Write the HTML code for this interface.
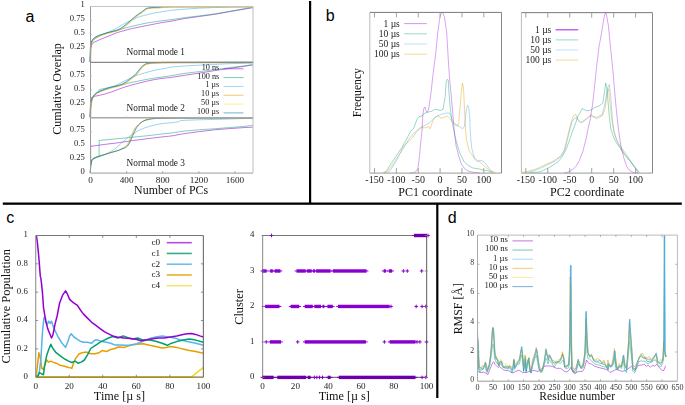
<!DOCTYPE html>
<html><head><meta charset="utf-8"><style>
html,body{margin:0;padding:0;background:#fff;}
body{width:685px;height:405px;overflow:hidden;}
svg{display:block;}
.gt{filter:grayscale(1);}
text{white-space:pre;}
</style></head><body>
<svg width="685" height="405" viewBox="0 0 685 405">
<rect width="685" height="405" fill="#fff"/>
<rect x="309" y="1" width="2.2" height="202.5" fill="#000"/>
<rect x="2.8" y="202.5" width="679" height="2.3" fill="#000"/>
<rect x="436.2" y="203" width="2.2" height="195" fill="#000"/>
<text x="25.5" y="22" font-family='"Liberation Sans", sans-serif' font-size="16" text-anchor="start" fill="#000" >a</text>
<text x="325.7" y="20.7" font-family='"Liberation Sans", sans-serif' font-size="16" text-anchor="start" fill="#000" >b</text>
<text x="6.3" y="222.9" font-family='"Liberation Sans", sans-serif' font-size="16" text-anchor="start" fill="#000" >c</text>
<text x="447.8" y="222.9" font-family='"Liberation Sans", sans-serif' font-size="16" text-anchor="start" fill="#000" >d</text>
<polyline points="90.22,62.07 90.67,48.44 91.7,44.74 93.93,42.22 98.37,40.3 102.81,38.37 110.22,35.41 117.63,32.44 125.04,30.37 132.44,28.44 139.85,26.96 147.26,25.48 154.67,24 162.07,22.52 172,21.04 184.81,18.52 199.63,16.44 214.44,14.37 229.26,11.7 244.07,9.19 252.96,7.7" fill="none" stroke="#9400d3" stroke-width="0.9" stroke-opacity="0.6" stroke-linejoin="round" />
<polyline points="90.22,62.07 90.52,48.44 91.26,43.26 92.44,40.3 94.67,37.78 98.37,35.85 102.81,34.37 107.26,32.89 111.7,31.7 116.15,30.67 119.85,29.48 125.04,28 132.44,26.22 139.85,24.44 147.26,22.96 154.67,21.78 162.07,20.74 172,19.56 184.81,17.63 199.63,15.85 214.44,13.93 229.26,11.41 244.07,8.74 252.96,6.96" fill="none" stroke="#009e73" stroke-width="0.9" stroke-opacity="0.55" stroke-linejoin="round" />
<polyline points="90.22,62.07 90.52,48.44 91.26,43.26 92.44,40.3 102.81,34.37 110.22,31.41 117.63,27.7 125.04,23.26 132.44,19.56 139.85,16.59 147.26,14.67 154.67,12.89 162.07,11.7 172,10.22 184.81,9.19 199.63,8.15 214.44,7.56 229.26,7.11 252.96,6.67" fill="none" stroke="#56b4e9" stroke-width="0.9" stroke-opacity="0.65" stroke-linejoin="round" />
<polyline points="90.42,62.22 90.72,48.59 91.46,43.41 92.64,40.45 94.87,37.93 98.57,36 103.01,34.52 107.46,33.04 110.2,32.45 116.9,30.65 120.7,29.05 123.5,27.05 128.7,22.95 132.4,19.55 134.6,17.55 138.3,14.75 142.8,11.65 145.8,9.25 148,8.35 152.2,7.85 160.2,7.55 162.27,7.11 172.2,6.96 253.16,6.82" fill="none" stroke="#f0e442" stroke-width="0.9" stroke-opacity="0.35" stroke-linejoin="round" />
<polyline points="90.72,62.47 91.02,48.84 91.76,43.66 92.94,40.7 95.17,38.18 98.87,36.25 103.31,34.77 107.76,33.29 110.5,32.7 117.2,30.9 121,29.3 123.8,27.3 129,23.2 132.7,19.8 134.9,17.8 138.6,15 143.1,11.9 146.1,9.5 148.3,8.6 152.5,8.1 160.5,7.8 162.57,7.36 172.5,7.21 253.46,7.07" fill="none" stroke="#e69f00" stroke-width="0.9" stroke-opacity="0.7" stroke-linejoin="round" />
<polyline points="90.02,61.87 90.32,48.24 91.06,43.06 92.24,40.1 94.47,37.58 98.17,35.65 102.61,34.17 107.06,32.69 109.8,32.1 116.5,30.3 120.3,28.7 123.1,26.7 128.3,22.6 132,19.2 134.2,17.2 137.9,14.4 142.4,11.3 145.4,8.9 147.6,8 151.8,7.5 159.8,7.2 161.87,6.76 171.8,6.61 252.76,6.47" fill="none" stroke="#0072b2" stroke-width="0.9" stroke-opacity="0.75" stroke-linejoin="round" />
<polyline points="90.22,117.48 90.52,100 90.96,98.22 92.44,97.33 94.67,96.3 99.85,95.26 105.78,93.78 111.7,91.85 117.63,89.63 123.56,87.41 129.48,85.63 135.41,84 141.33,82.52 147.26,81.04 153.19,79.85 159.11,78.81 165.04,78.07 172,77.33 184.81,75.26 199.63,73.04 214.44,70.67 229.26,68.44 244.07,66.37 252.96,64.89" fill="none" stroke="#9400d3" stroke-width="0.9" stroke-opacity="0.6" stroke-linejoin="round" />
<polyline points="90.22,117.48 90.67,107.41 91.7,100 93.93,95.56 96.89,92.89 98.67,91.85 99.11,89.63 102.81,88.89 108.74,87.41 114.67,86.37 120.59,85.19 126.52,83.7 132.44,82.22 139.85,80.74 147.26,79.26 154.67,78.07 162.07,77.04 172,75.56 184.81,73.33 199.63,71.56 214.44,69.63 229.26,67.7 244.07,65.93 252.96,64.44" fill="none" stroke="#009e73" stroke-width="0.9" stroke-opacity="0.55" stroke-linejoin="round" />
<polyline points="90.22,117.48 90.52,108.89 91.26,101.48 92.44,97.78 94.67,94.81 96.89,92.89 102.81,90.37 108.74,88.15 114.67,85.93 120.59,82.96 126.52,80 132.44,77.04 138.37,74.81 144.3,73.04 150.22,71.41 156.15,69.93 162.07,68.89 172,66.96 184.81,65.93 199.63,65.19 214.44,64.44 229.26,63.7 244.07,63.26 252.96,62.96" fill="none" stroke="#56b4e9" stroke-width="0.9" stroke-opacity="0.65" stroke-linejoin="round" />
<polyline points="90.42,117.63 90.72,109.04 91.46,101.63 92.64,97.93 94.87,94.96 97.09,93.04 100.05,91.56 104.5,89.78 108.94,88.3 113.39,87.11 117.83,86.08 122.27,84.59 126.72,82.08 131.16,78.67 135.61,74.96 139.31,70.52 143.01,66.08 146.72,63.85 151.9,63.11 162.27,62.82 172.2,62.67 253.16,62.52" fill="none" stroke="#f0e442" stroke-width="0.9" stroke-opacity="0.35" stroke-linejoin="round" />
<polyline points="90.72,117.88 91.02,109.29 91.76,101.88 92.94,98.18 95.17,95.21 97.39,93.29 100.35,91.81 104.8,90.03 109.24,88.55 113.69,87.36 118.13,86.33 122.57,84.84 127.02,82.33 131.46,78.92 135.91,75.21 139.61,70.77 143.31,66.33 147.02,64.1 152.2,63.36 162.57,63.07 172.5,62.92 253.46,62.77" fill="none" stroke="#e69f00" stroke-width="0.9" stroke-opacity="0.7" stroke-linejoin="round" />
<polyline points="90.02,117.28 90.32,108.69 91.06,101.28 92.24,97.58 94.47,94.61 96.69,92.69 99.65,91.21 104.1,89.43 108.54,87.95 112.99,86.76 117.43,85.73 121.87,84.24 126.32,81.73 130.76,78.32 135.21,74.61 138.91,70.17 142.61,65.73 146.32,63.5 151.5,62.76 161.87,62.47 171.8,62.32 252.76,62.17" fill="none" stroke="#0072b2" stroke-width="0.9" stroke-opacity="0.75" stroke-linejoin="round" />
<polyline points="90.37,173.07 90.67,165.37 90.67,146.41 102.81,144.63 117.63,142.85 132.44,140.63 147.26,138.7 162.07,136.93 172,135.89 184.81,133.52 199.63,131.59 214.44,129.81 229.26,128.63 244.07,127.59 252.96,127.15" fill="none" stroke="#9400d3" stroke-width="0.9" stroke-opacity="0.6" stroke-linejoin="round" />
<polyline points="90.22,173.07 90.67,165.37 91.7,160.93 93.93,158.7 96.89,157.22 99.11,156.48 99.11,140.48 117.63,138.7 132.44,137.22 147.26,135.74 162.07,133.96 172,132.93 184.81,131 199.63,129.81 214.44,128.78 229.26,127.59 244.07,126.41 252.96,125.37" fill="none" stroke="#009e73" stroke-width="0.9" stroke-opacity="0.55" stroke-linejoin="round" />
<polyline points="90.22,173.07 90.67,165.37 91.7,160.93 93.93,158.7 96.89,157.52 102.81,155.74 108.74,152.78 114.67,149.07 120.59,143.89 126.52,138.7 132.44,134.26 138.37,130.56 144.3,128.04 150.22,126.11 156.15,124.63 162.07,123.59 172,122.7 178.89,121.67 180.37,120.63 184.81,120.33 199.63,119.74 214.44,119.44 229.26,119 252.96,118.26" fill="none" stroke="#56b4e9" stroke-width="0.9" stroke-opacity="0.65" stroke-linejoin="round" />
<polyline points="90.6,173.2 90.9,166.2 92,160.6 93.3,158.8 95.4,157.8 98.3,156.7 102.1,155.5 110.5,153 118.9,150.5 125.6,147.8 127.8,146.2 129.2,144.2 130.7,141.2 131.9,138.2 133.2,135.4 134.8,131.7 136.8,127.8 138.8,125.2 140.7,123.4 142.5,122 144.1,121 146.3,120 149.1,119.3 152.3,118.9 157.5,118.6 175.3,118.3 253.3,118.2" fill="none" stroke="#f0e442" stroke-width="0.9" stroke-opacity="0.35" stroke-linejoin="round" />
<polyline points="90.3,173 90.6,166 91.7,160.4 93,158.6 95.1,157.6 98,156.5 101.8,155.3 110.2,152.8 118.6,150.3 124.1,147.6 126.3,146 127.7,144 129.2,141 130.4,138 131.7,135.2 133.3,131.5 135.3,127.6 137.3,125.6 139.2,123.8 141,122.4 142.6,121.4 146,120.4 148.8,119.7 152,118.7 157.2,118.4 175,118.1 253,118" fill="none" stroke="#e69f00" stroke-width="0.9" stroke-opacity="0.7" stroke-linejoin="round" />
<polyline points="90.3,173 90.6,166 91.7,160.4 93,158.6 95.1,157.6 98,156.5 101.8,155.3 110.2,152.8 118.6,150.3 125.3,147.6 127.5,146 128.9,144 130.4,141 131.6,138 132.9,135.2 134.5,131.5 136.5,127.6 138.5,125 140.4,123.2 142.2,121.8 143.8,120.8 146,119.8 148.8,119.1 152,118.7 157.2,118.4 175,118.1 253,118" fill="none" stroke="#0072b2" stroke-width="0.9" stroke-opacity="0.75" stroke-linejoin="round" />
<line x1="90.5" y1="6.5" x2="253" y2="6.5" stroke="#c4c4c4" stroke-width="1.2" />
<line x1="90.5" y1="173.1" x2="253" y2="173.1" stroke="#9a9a9a" stroke-width="1" />
<line x1="90.5" y1="6.5" x2="90.5" y2="173.1" stroke="#9a9a9a" stroke-width="1" />
<line x1="253" y1="6.5" x2="253" y2="173.1" stroke="#c8c8c8" stroke-width="1.2" />
<line x1="90.5" y1="62.3" x2="253" y2="62.3" stroke="#888" stroke-width="1.2" />
<line x1="90.5" y1="117.8" x2="253" y2="117.8" stroke="#a8a8a8" stroke-width="1.5" />
<line x1="126.61" y1="173.1" x2="126.61" y2="171.1" stroke="#9a9a9a" stroke-width="0.8" />
<line x1="126.61" y1="62.3" x2="126.61" y2="60.8" stroke="#bbb" stroke-width="0.6" />
<line x1="126.61" y1="117.8" x2="126.61" y2="116.3" stroke="#bbb" stroke-width="0.6" />
<line x1="162.72" y1="173.1" x2="162.72" y2="171.1" stroke="#9a9a9a" stroke-width="0.8" />
<line x1="162.72" y1="62.3" x2="162.72" y2="60.8" stroke="#bbb" stroke-width="0.6" />
<line x1="162.72" y1="117.8" x2="162.72" y2="116.3" stroke="#bbb" stroke-width="0.6" />
<line x1="198.83" y1="173.1" x2="198.83" y2="171.1" stroke="#9a9a9a" stroke-width="0.8" />
<line x1="198.83" y1="62.3" x2="198.83" y2="60.8" stroke="#bbb" stroke-width="0.6" />
<line x1="198.83" y1="117.8" x2="198.83" y2="116.3" stroke="#bbb" stroke-width="0.6" />
<line x1="234.94" y1="173.1" x2="234.94" y2="171.1" stroke="#9a9a9a" stroke-width="0.8" />
<line x1="234.94" y1="62.3" x2="234.94" y2="60.8" stroke="#bbb" stroke-width="0.6" />
<line x1="234.94" y1="117.8" x2="234.94" y2="116.3" stroke="#bbb" stroke-width="0.6" />
<line x1="90.5" y1="48.35" x2="92" y2="48.35" stroke="#bbb" stroke-width="0.8" />
<line x1="90.5" y1="34.4" x2="92" y2="34.4" stroke="#bbb" stroke-width="0.8" />
<line x1="90.5" y1="20.45" x2="92" y2="20.45" stroke="#bbb" stroke-width="0.8" />
<line x1="90.5" y1="103.92" x2="92" y2="103.92" stroke="#bbb" stroke-width="0.8" />
<line x1="90.5" y1="90.05" x2="92" y2="90.05" stroke="#bbb" stroke-width="0.8" />
<line x1="90.5" y1="76.17" x2="92" y2="76.17" stroke="#bbb" stroke-width="0.8" />
<line x1="90.5" y1="159.28" x2="92" y2="159.28" stroke="#bbb" stroke-width="0.8" />
<line x1="90.5" y1="145.45" x2="92" y2="145.45" stroke="#bbb" stroke-width="0.8" />
<line x1="90.5" y1="131.62" x2="92" y2="131.62" stroke="#bbb" stroke-width="0.8" />
<line x1="223.5" y1="68.8" x2="243.5" y2="68.8" stroke="#9400d3" stroke-width="1" stroke-opacity="0.55"/>
<line x1="223.5" y1="77.62" x2="243.5" y2="77.62" stroke="#009e73" stroke-width="1" stroke-opacity="0.55"/>
<line x1="223.5" y1="86.44" x2="243.5" y2="86.44" stroke="#56b4e9" stroke-width="1" stroke-opacity="0.55"/>
<line x1="223.5" y1="95.26" x2="243.5" y2="95.26" stroke="#e69f00" stroke-width="1" stroke-opacity="0.55"/>
<line x1="223.5" y1="104.08" x2="243.5" y2="104.08" stroke="#f0e442" stroke-width="1" stroke-opacity="0.55"/>
<line x1="223.5" y1="112.9" x2="243.5" y2="112.9" stroke="#0072b2" stroke-width="1" stroke-opacity="0.55"/>
<polyline points="382.9,172.6 387.1,171.8 391.4,166.5 395.6,160.1 399.9,153.7 404.1,145.2 408.4,142.1 412.6,137.8 416.9,131.4 421.1,127.8 425.4,127.8 428.6,126.5 430,128.8 433.9,118.4 437.8,115.8 441.8,118.4 444.4,117.1 447,115.8 449.6,118.4 452.2,122.3 454.8,124.9 457.5,126.2 458.8,122.3 460.1,106.6 461.4,90.9 462.4,83.1 463.5,88.3 464.5,109.2 465.6,130.1 466.6,140.6 469.2,151.1 473.1,156.3 477.1,160.2 481,162.8 484.9,166.8 490.1,170.7 495.4,172.6" fill="none" stroke="#e69f00" stroke-width="0.8" stroke-opacity="0.55" stroke-linejoin="round" />
<polyline points="388.2,172.9 391.4,168.6 395.6,162.2 399.9,153.7 404.1,147.4 408.4,139.9 412.6,134.6 416.9,130.4 421.1,127.2 425.4,125.1 429.6,122.9 435.2,117.1 440.5,114.5 445.7,113.1 449.6,113.1 452.2,119.7 454.8,123.6 458.8,126.2 462.7,128.8 464.5,126.2 466.1,111.8 467.4,105.3 468.7,106.6 469.7,117.1 470.5,135.4 471.8,148.5 474.5,158.9 477.1,161.5 481,160.2 484.9,162.8 488.8,168.1 492.8,172.6" fill="none" stroke="#56b4e9" stroke-width="0.8" stroke-opacity="0.6" stroke-linejoin="round" />
<polyline points="383.9,172.6 386.1,171.8 389.2,166.5 393.5,160.1 397.7,153.7 402,147.4 406.2,139.9 410.5,131.4 413.7,128.2 416.9,119.7 419,116.6 422.2,115.9 424.3,113.4 427.5,112.3 431.7,111.2 435.2,109.2 440.5,110.5 443.1,109.2 445.2,96.2 446.2,81.8 447.3,79.2 448.3,80.5 448.8,90.9 450.4,109.2 452.2,122.3 454.8,135.4 457.5,145.8 460.1,153.7 464,161.5 467.9,165.4 473.1,168.1 478.4,168.8 482.3,169.9 487.5,170.7 492.8,172.6" fill="none" stroke="#009e73" stroke-width="0.8" stroke-opacity="0.5" stroke-linejoin="round" />
<polyline points="410,173 412.6,172.9 415.8,171.8 417.9,168.6 419,160.1 420.1,149.5 421.1,138.9 422.2,128.2 422.8,115.5 423.7,108.7 425,107 425.8,110.2 427.1,112.3 428.5,110 429.6,102.7 431.1,92 433.3,72.2 435.6,54.4 437.8,32.2 440,16.7 441.2,13.5 442.2,12.4 443.2,13.5 444.4,16.7 446.7,32.2 448.3,60 449.6,79 450.9,92 452.2,106.6 453.5,122.3 454.8,135.4 456.1,145.8 458.8,156.3 461.4,164.1 465.3,169.4 469.2,171.5 474.5,172.5 480,173" fill="none" stroke="#9400d3" stroke-width="0.8" stroke-opacity="0.45" stroke-linejoin="round" />
<line x1="369.8" y1="12.4" x2="501.5" y2="12.4" stroke="#777" stroke-width="1" />
<line x1="369.8" y1="173.1" x2="501.5" y2="173.1" stroke="#999" stroke-width="1" />
<line x1="369.8" y1="12.4" x2="369.8" y2="173.1" stroke="#bbb" stroke-width="1" />
<line x1="501.5" y1="12.4" x2="501.5" y2="173.1" stroke="#888" stroke-width="1" />
<line x1="374.52" y1="173.1" x2="374.52" y2="168.1" stroke="#999" stroke-width="0.9" />
<line x1="374.52" y1="12.4" x2="374.52" y2="17.4" stroke="#999" stroke-width="0.9" />
<line x1="396.38" y1="173.1" x2="396.38" y2="168.1" stroke="#999" stroke-width="0.9" />
<line x1="396.38" y1="12.4" x2="396.38" y2="17.4" stroke="#999" stroke-width="0.9" />
<line x1="418.24" y1="173.1" x2="418.24" y2="168.1" stroke="#999" stroke-width="0.9" />
<line x1="418.24" y1="12.4" x2="418.24" y2="17.4" stroke="#999" stroke-width="0.9" />
<line x1="440.1" y1="173.1" x2="440.1" y2="168.1" stroke="#999" stroke-width="0.9" />
<line x1="440.1" y1="12.4" x2="440.1" y2="17.4" stroke="#999" stroke-width="0.9" />
<line x1="461.96" y1="173.1" x2="461.96" y2="168.1" stroke="#999" stroke-width="0.9" />
<line x1="461.96" y1="12.4" x2="461.96" y2="17.4" stroke="#999" stroke-width="0.9" />
<line x1="483.82" y1="173.1" x2="483.82" y2="168.1" stroke="#999" stroke-width="0.9" />
<line x1="483.82" y1="12.4" x2="483.82" y2="17.4" stroke="#999" stroke-width="0.9" />
<line x1="404.1" y1="23.6" x2="426.8" y2="23.6" stroke="#9400d3" stroke-width="0.9" stroke-opacity="0.45"/>
<line x1="404.1" y1="33.8" x2="426.8" y2="33.8" stroke="#009e73" stroke-width="0.9" stroke-opacity="0.45"/>
<line x1="404.1" y1="44" x2="426.8" y2="44" stroke="#56b4e9" stroke-width="0.9" stroke-opacity="0.45"/>
<line x1="404.1" y1="54.2" x2="426.8" y2="54.2" stroke="#e69f00" stroke-width="0.9" stroke-opacity="0.45"/>
<polyline points="521.2,172.6 527.1,171.4 534.2,169.7 541.4,166.6 546.1,164.2 550.8,162.6 555.6,159.5 560.3,156.4 563.9,151.2 566.3,141.7 568.6,132.2 571,122.7 573.4,115.6 575.8,114.4 578.1,120.3 580.5,122.7 584.1,120.3 587.6,118 590.7,114.5 596.5,118.8 602.2,115.9 605.1,108.8 607.4,91.6 608.5,88.7 610.2,105.9 612.3,123.1 615.1,134.6 618,143.2 622.3,151.8 626.6,157.5 630.9,161.8 635.2,167.6 639.5,172.6" fill="none" stroke="#e69f00" stroke-width="0.8" stroke-opacity="0.55" stroke-linejoin="round" />
<polyline points="527.1,172.6 534.2,170.6 541.4,167.8 548.5,164.2 555.6,160.7 561.5,155.9 565.1,148.8 567.5,139.3 569.8,129.8 572.2,121.5 574.6,118 577,118 579.3,121.5 581.7,122.7 585.3,120.3 588.8,116.8 590.7,115.9 596.5,117.4 602.2,114.5 605.1,103 607.4,88.7 609.4,84.4 610.8,97.3 612.3,117.4 613.7,131.7 616.6,140.3 619.4,144.6 622.3,148.9 626.6,154.7 630.9,161.8 635.2,167.6 639.5,172.6" fill="none" stroke="#56b4e9" stroke-width="0.8" stroke-opacity="0.6" stroke-linejoin="round" />
<polyline points="529.5,172.6 539,172.1 543.7,170.2 550.8,166.6 558,161.9 562.7,155.9 566.3,148.8 569.8,139.3 572.2,132.2 575.8,122.7 578.1,115.6 580.5,112 582.2,108.5 584.1,109.7 586.4,110.8 590.7,110.2 595,107.3 599.3,105.9 602.8,103 604.5,91.6 605.7,83 606.8,87.3 607.9,100.2 609.4,117.4 610.8,128.8 613.7,137.5 616.6,143.2 620.9,148.9 625.2,154.7 629.5,160.4 633.8,166.1 638.1,172.6" fill="none" stroke="#009e73" stroke-width="0.8" stroke-opacity="0.5" stroke-linejoin="round" />
<polyline points="564,173 566.3,172.6 569.8,171.4 573.4,169 576.5,165.5 579.3,160.7 582.9,151.2 586,139.3 588.3,127.5 590,120.5 592.5,105 594.4,88 596.9,63.9 599.4,43.4 599.9,42.2 602,30 604,17.9 605,14 605.8,12.8 606.6,15.3 608.4,25.5 610.9,51.1 613.5,76.6 614.5,90 615.7,103 617.1,117.4 618.8,131.7 620.9,146.1 623.7,157.5 626.6,166.1 629.5,170.4 633.8,172.7 638,173" fill="none" stroke="#9400d3" stroke-width="0.8" stroke-opacity="0.45" stroke-linejoin="round" />
<line x1="521.4" y1="12.65" x2="652.5" y2="12.65" stroke="#777" stroke-width="1" />
<line x1="521.4" y1="173.1" x2="652.5" y2="173.1" stroke="#999" stroke-width="1" />
<line x1="521.4" y1="12.65" x2="521.4" y2="173.1" stroke="#bbb" stroke-width="1" />
<line x1="652.5" y1="12.65" x2="652.5" y2="173.1" stroke="#888" stroke-width="1" />
<line x1="525.82" y1="173.1" x2="525.82" y2="168.1" stroke="#999" stroke-width="0.9" />
<line x1="525.82" y1="12.65" x2="525.82" y2="17.65" stroke="#999" stroke-width="0.9" />
<line x1="547.78" y1="173.1" x2="547.78" y2="168.1" stroke="#999" stroke-width="0.9" />
<line x1="547.78" y1="12.65" x2="547.78" y2="17.65" stroke="#999" stroke-width="0.9" />
<line x1="569.74" y1="173.1" x2="569.74" y2="168.1" stroke="#999" stroke-width="0.9" />
<line x1="569.74" y1="12.65" x2="569.74" y2="17.65" stroke="#999" stroke-width="0.9" />
<line x1="591.7" y1="173.1" x2="591.7" y2="168.1" stroke="#999" stroke-width="0.9" />
<line x1="591.7" y1="12.65" x2="591.7" y2="17.65" stroke="#999" stroke-width="0.9" />
<line x1="613.66" y1="173.1" x2="613.66" y2="168.1" stroke="#999" stroke-width="0.9" />
<line x1="613.66" y1="12.65" x2="613.66" y2="17.65" stroke="#999" stroke-width="0.9" />
<line x1="635.62" y1="173.1" x2="635.62" y2="168.1" stroke="#999" stroke-width="0.9" />
<line x1="635.62" y1="12.65" x2="635.62" y2="17.65" stroke="#999" stroke-width="0.9" />
<line x1="555.6" y1="29.8" x2="578.2" y2="29.8" stroke="#9400d3" stroke-width="1.1" stroke-opacity="0.8"/>
<line x1="555.6" y1="39.9" x2="578.2" y2="39.9" stroke="#009e73" stroke-width="0.9" stroke-opacity="0.45"/>
<line x1="555.6" y1="50" x2="578.2" y2="50" stroke="#56b4e9" stroke-width="0.9" stroke-opacity="0.45"/>
<line x1="555.6" y1="60.1" x2="578.2" y2="60.1" stroke="#e69f00" stroke-width="0.9" stroke-opacity="0.45"/>
<polyline points="35.7,377 191.4,377 203.4,367.4" fill="none" stroke="#f0d000" stroke-width="1.5" stroke-opacity="0.9" stroke-linejoin="round" />
<polyline points="36.1,376.8 37.6,364.2 38.9,352.7 40.3,357.9 41.8,368.4 43.5,369.5 45.2,364.2 46.6,360 48.7,362.1 50.8,361.1 52.9,362.1 56.1,363.2 60.3,365.3 64.5,366.3 68.7,367.4 71.8,368.4 73.9,362.1 76,357.9 79.2,353.7 82.3,352.7 86.5,352.1 90.7,353.7 94.9,353.7 99.1,352.7 102.2,350.6 106.4,351.6 110.6,349.5 114.8,348.5 118,347 124.3,347.4 130.6,345.3 136.9,344.3 143.2,343.7 149.5,345.3 155.8,346.4 162.1,347.9 166.2,347.4 170.4,346.4 176.7,347.4 183,349.1 189.3,350.6 195.6,351.6 203.4,353.3" fill="none" stroke="#e69f00" stroke-width="1.5" stroke-opacity="1" stroke-linejoin="round" />
<polyline points="37.2,376.8 39.3,372.6 41,357.9 42.4,332.8 43.9,318.1 45.2,317 46,322.3 47.3,324.4 48.7,321.2 50.2,323.3 51.5,321.2 52.9,325.4 55,330.7 58.2,337 61.3,342.2 65.5,347.4 67.6,342.2 69.7,335.9 71.2,333.8 73.9,337 77.1,339.1 80.2,341.2 83.3,342.2 87.5,342.2 91.7,343.2 94.9,340.1 98,340.1 102.2,341.6 106.4,342.2 110.6,343.2 114.8,344.9 119,344.9 124.3,345.3 130.6,344.9 136.9,343.7 143.2,341.2 149.5,338.6 155.8,337 162.1,335.9 168.3,337 174.6,338 180.9,340.1 187.2,341.6 193.5,342.8 199.8,344.3 203.4,345.3" fill="none" stroke="#56b4e9" stroke-width="1.5" stroke-opacity="1" stroke-linejoin="round" />
<polyline points="36.1,376.8 38.2,375.8 39.3,372.6 41.4,373.7 43.5,374.7 44.5,366.3 46.6,355.8 48.7,349.5 50.8,344.3 52.9,348.5 56.1,352.7 60.3,355.8 64.5,359 68.7,361.1 71.8,362.5 75,361.1 78.1,363.2 81.2,362.1 84.4,360 87.5,354.8 90.7,348.5 93.8,346.4 97,344.3 100.1,342.2 104.3,340.1 108.5,338 112.7,336.5 118,338 123.2,335.9 128.5,338 132.7,339.1 137.9,338 143.2,340.1 149.5,340.1 155.8,341.2 162.1,343.2 167.3,345.3 171.5,343.2 176.7,341.6 183,340.1 189.3,339.1 195.6,340.1 203.4,342.2" fill="none" stroke="#00a070" stroke-width="1.5" stroke-opacity="1" stroke-linejoin="round" />
<polyline points="36.4,235.6 37.3,241.9 38.5,253.7 39.5,265.6 40.3,276.4 40.9,278.4 41.5,283.3 42.5,293.2 43.5,307.6 45.6,320.2 47.7,328.6 49.8,333.8 51.5,338 52.9,334.9 55,324.4 57.1,316 59.6,303 62.6,295.2 65.6,290.8 67.5,294.2 69.5,299.1 71.5,301.1 74.4,303.4 77.4,305.4 80.4,310 83.3,313.9 87.5,318.1 91.7,322.3 95.9,325.4 100.1,328.6 104.3,331.7 108.5,333.8 112.7,335.9 116.9,337 124.3,338 130.6,338.6 136.9,339.5 141.1,340.7 145.3,340.1 151.6,339.1 157.9,338 164.2,338 170.4,337 176.7,335.9 183,334.4 187.2,333.8 191.4,333.4 195.6,334.4 199.8,335.9 203.4,337" fill="none" stroke="#9400d3" stroke-width="1.5" stroke-opacity="1" stroke-linejoin="round" />
<line x1="35.7" y1="235.5" x2="203.4" y2="235.5" stroke="#777" stroke-width="1.2" />
<line x1="35.7" y1="377.2" x2="203.4" y2="377.2" stroke="#857528" stroke-width="1.3" />
<line x1="35.7" y1="235.5" x2="35.7" y2="377.2" stroke="#999" stroke-width="1.2" />
<line x1="203.4" y1="235.5" x2="203.4" y2="377.2" stroke="#777" stroke-width="1.2" />
<line x1="69.24" y1="377.2" x2="69.24" y2="374.7" stroke="#777" stroke-width="0.8" />
<line x1="69.24" y1="235.5" x2="69.24" y2="238" stroke="#777" stroke-width="0.8" />
<line x1="102.78" y1="377.2" x2="102.78" y2="374.7" stroke="#777" stroke-width="0.8" />
<line x1="102.78" y1="235.5" x2="102.78" y2="238" stroke="#777" stroke-width="0.8" />
<line x1="136.32" y1="377.2" x2="136.32" y2="374.7" stroke="#777" stroke-width="0.8" />
<line x1="136.32" y1="235.5" x2="136.32" y2="238" stroke="#777" stroke-width="0.8" />
<line x1="169.86" y1="377.2" x2="169.86" y2="374.7" stroke="#777" stroke-width="0.8" />
<line x1="169.86" y1="235.5" x2="169.86" y2="238" stroke="#777" stroke-width="0.8" />
<line x1="35.7" y1="348.86" x2="38.2" y2="348.86" stroke="#777" stroke-width="0.8" />
<line x1="203.4" y1="348.86" x2="200.9" y2="348.86" stroke="#777" stroke-width="0.8" />
<line x1="35.7" y1="320.52" x2="38.2" y2="320.52" stroke="#777" stroke-width="0.8" />
<line x1="203.4" y1="320.52" x2="200.9" y2="320.52" stroke="#777" stroke-width="0.8" />
<line x1="35.7" y1="292.18" x2="38.2" y2="292.18" stroke="#777" stroke-width="0.8" />
<line x1="203.4" y1="292.18" x2="200.9" y2="292.18" stroke="#777" stroke-width="0.8" />
<line x1="35.7" y1="263.84" x2="38.2" y2="263.84" stroke="#777" stroke-width="0.8" />
<line x1="203.4" y1="263.84" x2="200.9" y2="263.84" stroke="#777" stroke-width="0.8" />
<line x1="166.7" y1="242.7" x2="191.8" y2="242.7" stroke="#a030e0" stroke-width="1.6" stroke-opacity="0.85"/>
<line x1="166.7" y1="253.45" x2="191.8" y2="253.45" stroke="#10a070" stroke-width="1.6" stroke-opacity="0.85"/>
<line x1="166.7" y1="264.2" x2="191.8" y2="264.2" stroke="#56b4e9" stroke-width="1.6" stroke-opacity="0.85"/>
<line x1="166.7" y1="274.95" x2="191.8" y2="274.95" stroke="#e69f00" stroke-width="1.6" stroke-opacity="0.85"/>
<line x1="166.7" y1="285.7" x2="191.8" y2="285.7" stroke="#f0e060" stroke-width="1.6" stroke-opacity="0.85"/>
<line x1="262.6" y1="235.5" x2="426.6" y2="235.5" stroke="#777" stroke-width="1.2" />
<line x1="262.6" y1="377.4" x2="426.6" y2="377.4" stroke="#777" stroke-width="1.2" />
<line x1="262.6" y1="235.5" x2="262.6" y2="377.4" stroke="#999" stroke-width="1.2" />
<line x1="426.6" y1="235.5" x2="426.6" y2="377.4" stroke="#777" stroke-width="1.2" />
<rect x="262.4" y="269.28" width="4.2" height="3.4" fill="#8800d0"/>
<line x1="260.6" y1="270.98" x2="268.4" y2="270.98" stroke="#8800d0" stroke-width="1" />
<rect x="270.2" y="269.28" width="2.6" height="3.4" fill="#8800d0"/>
<line x1="268.4" y1="270.98" x2="274.6" y2="270.98" stroke="#8800d0" stroke-width="1" />
<rect x="274.6" y="269.28" width="5.9" height="3.4" fill="#8800d0"/>
<line x1="272.8" y1="270.98" x2="282.3" y2="270.98" stroke="#8800d0" stroke-width="1" />
<rect x="296.5" y="269.28" width="9.2" height="3.4" fill="#8800d0"/>
<line x1="294.7" y1="270.98" x2="307.5" y2="270.98" stroke="#8800d0" stroke-width="1" />
<rect x="306.9" y="269.28" width="4.8" height="3.4" fill="#8800d0"/>
<line x1="305.1" y1="270.98" x2="313.5" y2="270.98" stroke="#8800d0" stroke-width="1" />
<rect x="313.1" y="269.28" width="2" height="3.4" fill="#8800d0"/>
<line x1="311.3" y1="270.98" x2="316.9" y2="270.98" stroke="#8800d0" stroke-width="1" />
<rect x="316.1" y="269.28" width="14.5" height="3.4" fill="#8800d0"/>
<line x1="314.3" y1="270.98" x2="332.4" y2="270.98" stroke="#8800d0" stroke-width="1" />
<rect x="332.8" y="269.28" width="33.8" height="3.4" fill="#8800d0"/>
<line x1="331" y1="270.98" x2="368.4" y2="270.98" stroke="#8800d0" stroke-width="1" />
<rect x="383.7" y="269.28" width="2.2" height="3.4" fill="#8800d0"/>
<line x1="381.9" y1="270.98" x2="387.7" y2="270.98" stroke="#8800d0" stroke-width="1" />
<rect x="388.8" y="269.28" width="3.3" height="3.4" fill="#8800d0"/>
<line x1="387" y1="270.98" x2="393.9" y2="270.98" stroke="#8800d0" stroke-width="1" />
<rect x="265.1" y="304.75" width="14.4" height="3.4" fill="#8800d0"/>
<line x1="263.3" y1="306.45" x2="281.3" y2="306.45" stroke="#8800d0" stroke-width="1" />
<rect x="290.6" y="304.75" width="8.6" height="3.4" fill="#8800d0"/>
<line x1="288.8" y1="306.45" x2="301" y2="306.45" stroke="#8800d0" stroke-width="1" />
<rect x="304.7" y="304.75" width="8.1" height="3.4" fill="#8800d0"/>
<line x1="302.9" y1="306.45" x2="314.6" y2="306.45" stroke="#8800d0" stroke-width="1" />
<rect x="314.3" y="304.75" width="6.7" height="3.4" fill="#8800d0"/>
<line x1="312.5" y1="306.45" x2="322.8" y2="306.45" stroke="#8800d0" stroke-width="1" />
<rect x="322.5" y="304.75" width="1.9" height="3.4" fill="#8800d0"/>
<line x1="320.7" y1="306.45" x2="326.2" y2="306.45" stroke="#8800d0" stroke-width="1" />
<rect x="327.4" y="304.75" width="5.4" height="3.4" fill="#8800d0"/>
<line x1="325.6" y1="306.45" x2="334.6" y2="306.45" stroke="#8800d0" stroke-width="1" />
<rect x="338" y="304.75" width="51.6" height="3.4" fill="#8800d0"/>
<line x1="336.2" y1="306.45" x2="391.4" y2="306.45" stroke="#8800d0" stroke-width="1" />
<rect x="269.9" y="340.22" width="11.1" height="3.4" fill="#8800d0"/>
<line x1="268.1" y1="341.92" x2="282.8" y2="341.92" stroke="#8800d0" stroke-width="1" />
<rect x="304.7" y="340.22" width="61.2" height="3.4" fill="#8800d0"/>
<line x1="302.9" y1="341.92" x2="367.7" y2="341.92" stroke="#8800d0" stroke-width="1" />
<rect x="389.6" y="340.22" width="25.9" height="3.4" fill="#8800d0"/>
<line x1="387.8" y1="341.92" x2="417.3" y2="341.92" stroke="#8800d0" stroke-width="1" />
<rect x="262.4" y="375.7" width="11.2" height="3.4" fill="#6c00a8"/>
<line x1="260.6" y1="377.4" x2="275.4" y2="377.4" stroke="#6c00a8" stroke-width="1" />
<rect x="277.3" y="375.7" width="28.9" height="3.4" fill="#6c00a8"/>
<line x1="275.5" y1="377.4" x2="308" y2="377.4" stroke="#6c00a8" stroke-width="1" />
<rect x="307.7" y="375.7" width="2.9" height="3.4" fill="#6c00a8"/>
<line x1="305.9" y1="377.4" x2="312.4" y2="377.4" stroke="#6c00a8" stroke-width="1" />
<rect x="327.7" y="375.7" width="2.9" height="3.4" fill="#6c00a8"/>
<line x1="325.9" y1="377.4" x2="332.4" y2="377.4" stroke="#6c00a8" stroke-width="1" />
<rect x="338.8" y="375.7" width="76.7" height="3.4" fill="#6c00a8"/>
<line x1="337" y1="377.4" x2="417.3" y2="377.4" stroke="#6c00a8" stroke-width="1" />
<rect x="414" y="233.8" width="13" height="3.4" fill="#6c00a8"/>
<line x1="412.2" y1="235.5" x2="428.8" y2="235.5" stroke="#6c00a8" stroke-width="1" />
<line x1="401.6" y1="270.98" x2="405.2" y2="270.98" stroke="#8800d0" stroke-width="1" />
<line x1="403.4" y1="269.18" x2="403.4" y2="272.78" stroke="#8800d0" stroke-width="1" />
<line x1="405.5" y1="270.98" x2="409.1" y2="270.98" stroke="#8800d0" stroke-width="1" />
<line x1="407.3" y1="269.18" x2="407.3" y2="272.78" stroke="#8800d0" stroke-width="1" />
<line x1="419.9" y1="270.98" x2="423.5" y2="270.98" stroke="#8800d0" stroke-width="1" />
<line x1="421.7" y1="269.18" x2="421.7" y2="272.78" stroke="#8800d0" stroke-width="1" />
<line x1="389.2" y1="306.45" x2="392.8" y2="306.45" stroke="#8800d0" stroke-width="1" />
<line x1="391" y1="304.65" x2="391" y2="308.25" stroke="#8800d0" stroke-width="1" />
<line x1="414.4" y1="306.45" x2="418" y2="306.45" stroke="#8800d0" stroke-width="1" />
<line x1="416.2" y1="304.65" x2="416.2" y2="308.25" stroke="#8800d0" stroke-width="1" />
<line x1="420.3" y1="306.45" x2="423.9" y2="306.45" stroke="#8800d0" stroke-width="1" />
<line x1="422.1" y1="304.65" x2="422.1" y2="308.25" stroke="#8800d0" stroke-width="1" />
<line x1="424" y1="306.45" x2="427.6" y2="306.45" stroke="#8800d0" stroke-width="1" />
<line x1="425.8" y1="304.65" x2="425.8" y2="308.25" stroke="#8800d0" stroke-width="1" />
<line x1="264.4" y1="341.92" x2="268" y2="341.92" stroke="#8800d0" stroke-width="1" />
<line x1="266.2" y1="340.12" x2="266.2" y2="343.72" stroke="#8800d0" stroke-width="1" />
<line x1="295.9" y1="341.92" x2="299.5" y2="341.92" stroke="#8800d0" stroke-width="1" />
<line x1="297.7" y1="340.12" x2="297.7" y2="343.72" stroke="#8800d0" stroke-width="1" />
<line x1="382.6" y1="341.92" x2="386.2" y2="341.92" stroke="#8800d0" stroke-width="1" />
<line x1="384.4" y1="340.12" x2="384.4" y2="343.72" stroke="#8800d0" stroke-width="1" />
<line x1="415.2" y1="341.92" x2="418.8" y2="341.92" stroke="#8800d0" stroke-width="1" />
<line x1="417" y1="340.12" x2="417" y2="343.72" stroke="#8800d0" stroke-width="1" />
<line x1="418.1" y1="341.92" x2="421.7" y2="341.92" stroke="#8800d0" stroke-width="1" />
<line x1="419.9" y1="340.12" x2="419.9" y2="343.72" stroke="#8800d0" stroke-width="1" />
<line x1="424.8" y1="341.92" x2="428.4" y2="341.92" stroke="#8800d0" stroke-width="1" />
<line x1="426.6" y1="340.12" x2="426.6" y2="343.72" stroke="#8800d0" stroke-width="1" />
<line x1="312.5" y1="377.4" x2="316.1" y2="377.4" stroke="#8800d0" stroke-width="1" />
<line x1="314.3" y1="375.6" x2="314.3" y2="379.2" stroke="#8800d0" stroke-width="1" />
<line x1="315" y1="377.4" x2="318.6" y2="377.4" stroke="#8800d0" stroke-width="1" />
<line x1="316.8" y1="375.6" x2="316.8" y2="379.2" stroke="#8800d0" stroke-width="1" />
<line x1="317.7" y1="377.4" x2="321.3" y2="377.4" stroke="#8800d0" stroke-width="1" />
<line x1="319.5" y1="375.6" x2="319.5" y2="379.2" stroke="#8800d0" stroke-width="1" />
<line x1="320.7" y1="377.4" x2="324.3" y2="377.4" stroke="#8800d0" stroke-width="1" />
<line x1="322.5" y1="375.6" x2="322.5" y2="379.2" stroke="#8800d0" stroke-width="1" />
<line x1="420.3" y1="377.4" x2="423.9" y2="377.4" stroke="#8800d0" stroke-width="1" />
<line x1="422.1" y1="375.6" x2="422.1" y2="379.2" stroke="#8800d0" stroke-width="1" />
<line x1="424" y1="377.4" x2="427.6" y2="377.4" stroke="#8800d0" stroke-width="1" />
<line x1="425.8" y1="375.6" x2="425.8" y2="379.2" stroke="#8800d0" stroke-width="1" />
<line x1="269.7" y1="235.5" x2="273.3" y2="235.5" stroke="#8800d0" stroke-width="1" />
<line x1="271.5" y1="233.7" x2="271.5" y2="237.3" stroke="#8800d0" stroke-width="1" />
<line x1="426.2" y1="235.5" x2="429.8" y2="235.5" stroke="#8800d0" stroke-width="1" />
<line x1="428" y1="233.7" x2="428" y2="237.3" stroke="#8800d0" stroke-width="1" />
<line x1="261.6" y1="377.4" x2="264.6" y2="377.4" stroke="#777" stroke-width="0.8" />
<line x1="427.6" y1="377.4" x2="424.6" y2="377.4" stroke="#777" stroke-width="0.8" />
<line x1="261.6" y1="341.92" x2="264.6" y2="341.92" stroke="#777" stroke-width="0.8" />
<line x1="427.6" y1="341.92" x2="424.6" y2="341.92" stroke="#777" stroke-width="0.8" />
<line x1="261.6" y1="306.45" x2="264.6" y2="306.45" stroke="#777" stroke-width="0.8" />
<line x1="427.6" y1="306.45" x2="424.6" y2="306.45" stroke="#777" stroke-width="0.8" />
<line x1="261.6" y1="270.98" x2="264.6" y2="270.98" stroke="#777" stroke-width="0.8" />
<line x1="427.6" y1="270.98" x2="424.6" y2="270.98" stroke="#777" stroke-width="0.8" />
<line x1="261.6" y1="235.5" x2="264.6" y2="235.5" stroke="#777" stroke-width="0.8" />
<line x1="427.6" y1="235.5" x2="424.6" y2="235.5" stroke="#777" stroke-width="0.8" />
<polyline points="477.9,370.59 479.16,372.17 480.74,372.49 483.11,372.17 485.49,372.96 487.86,374.55 489.44,370.59 491.02,366.64 492.6,362.69 493.71,361.9 494.97,364.27 496.55,365.85 498.13,367.43 499.72,366.64 501.3,368.22 503.67,369.8 506.04,370.59 508.41,370.59 510.78,372.17 513.15,372.96 517.42,370.41 519.49,370.41 522.59,372.48 525.7,372.48 529.84,371.44 533.98,370.41 538.12,371.44 542.27,368.34 544,366.27 548.14,365.85 552.28,366.27 556.42,368.34 560.57,368.34 564.71,371.44 566.78,372.06 568.85,370.41 570.92,367.3 572.99,372.48 575.06,373.51 578.17,371.44 580.24,371.44 582.31,371.44 584.38,368.34 586.45,360.05 588.52,363.16 591.63,364.2 594.74,366.27 597.84,367.3 601.98,368.34 606.12,369.37 608.2,370.41 608,370.41 610.07,372.48 612.14,371.44 614.21,370.41 616.28,369.37 619.39,370.41 622.5,371.44 625.6,370.41 628.71,368.34 631.81,366.27 633.89,368.34 635.96,369.37 638.03,365.23 641.13,365.23 644.24,364.2 646.31,366.27 648.38,365.23 650.45,367.3 652.52,365.23 654.59,366.27 656.66,364.2 659.77,368.34 662.26,370.41 663.91,370.41 665.57,365.85" fill="none" stroke="#9400d3" stroke-width="0.85" stroke-opacity="0.6" stroke-linejoin="round" />
<polyline points="477.8,351.1 478.11,355.32 478.75,369.15 479.85,372.29 481.43,369.83 483.01,369.26 484.6,365.46 485.39,366.6 486.18,370.84 486.97,372.75 488.23,369.9 489.34,366.89 490.92,358.13 492.18,348.34 492.98,343.88 493.77,347.88 494.56,358.48 495.35,360.3 496.45,363.15 497.72,363.34 498.82,366.29 499.93,364.58 501.2,363.72 502.78,367.4 504.36,367.59 505.94,368.62 507.52,369.04 509.1,367.84 510.68,369.49 511.95,373.02 513.05,370.65 513.84,361.81 514.64,369.27 517.32,364.21 519.39,364.03 521.46,354.85 522.49,359.4 523.53,370.69 525.19,363.33 526.01,372.61 527.67,365.49 528.71,360.75 529.74,370.6 530.78,372.62 532.85,364.35 534.92,358.4 536.37,355.22 537.4,361.41 539.06,369.89 540.51,372.63 542.17,372.07 544.24,364.41 545.97,358.47 547.01,359.49 548.04,363.85 549.08,359.56 550.11,360.87 552.18,363.73 554.25,367.25 556.32,363.36 558.4,362.45 560.47,363.41 562.54,360.52 563.57,360.77 564.61,367.74 566.68,368.82 568.75,367.67 569.79,351.64 570.3,311.49 570.72,311.07 571.23,353.32 571.86,369.62 573.93,372.39 576,372.83 578.07,364.27 579.1,364.24 581.17,368.65 583.25,367.63 584.9,358 585.94,335.36 586.97,352.87 587.8,358.55 589.46,358.89 591.53,360.75 593.6,363.16 595.67,364.41 597.74,364.79 599.81,365.14 601.88,366.28 603.95,366.96 606.02,366.82 608.1,369.96 607.9,363.84 609.97,366.96 612.04,365.89 613.7,363.79 614.53,356.73 615.77,368.41 617.22,370.18 619.29,366.42 621.36,368.5 623.43,360.61 624.47,369.1 626.54,372.58 628.61,352.05 629.44,341.47 630.26,346.72 631.71,359.04 632.75,371.27 634.82,372.88 636.89,365.16 638.96,361.68 641.03,360.87 643.1,361.11 645.17,361.45 647.25,363.86 649.32,362.97 651.39,362.28 653.46,360.75 655.94,359.74 657.6,364.55 660.71,367.04 662.78,363.25 663.81,354.18 664.33,235.18 664.85,351.77 665.88,356.95" fill="none" stroke="#009e73" stroke-width="0.85" stroke-opacity="0.55" stroke-linejoin="round" />
<polyline points="478.3,343.51 478.61,349.23 479.25,367.04 480.35,367.1 481.93,369.22 483.51,368.23 485.1,364.65 485.89,363.51 486.68,365.24 487.47,371.04 488.73,367.71 489.84,364.35 491.42,353.47 492.68,333.31 493.48,327.73 494.27,335.06 495.06,354.7 495.85,359.24 496.95,359.18 498.22,359.89 499.32,363.32 500.43,358.82 501.7,360.09 503.28,363.61 504.86,364.29 506.44,363.39 508.02,367.33 509.6,364.73 511.18,367.11 512.45,368.31 513.55,365.98 514.34,360.47 515.14,366.86 517.82,363.33 519.89,360.13 521.96,351.05 522.99,354.6 524.03,367.93 525.69,355.53 526.51,368.4 528.17,360.73 529.21,356.57 530.24,368.77 531.28,370.53 533.35,361.22 535.42,355.76 536.87,351.51 537.9,355.9 539.56,368.25 541.01,371.49 542.67,368.78 544.74,361.43 546.47,353.48 547.51,356.04 548.54,360.48 549.58,356.33 550.61,358.17 552.68,361.56 554.75,364.9 556.82,360.31 558.9,358.98 560.97,359.8 563.04,354.21 564.07,356.59 565.11,367.1 567.18,366.67 569.25,361.69 570.29,342.92 570.8,283.33 571.22,285.43 571.73,344.78 572.36,365.55 574.43,368.58 576.5,367.91 578.57,360.62 579.6,361.48 581.67,367.72 583.75,362.08 585.4,354.28 586.44,318.32 587.47,343.95 588.3,353.37 589.96,357.27 592.03,356.32 594.1,358.96 596.17,359.74 598.24,361.59 600.31,359.97 602.38,362.69 604.45,363.92 606.52,366.57 608.6,366.36 608.4,363.69 610.47,366.71 612.54,365.95 614.2,357.86 615.03,352.44 616.27,363.87 617.72,370.23 619.79,364.95 621.86,366.82 623.93,357.46 624.97,366.86 627.04,366.02 629.11,346.06 629.94,327.88 630.76,337.14 632.21,352.26 633.25,369.02 635.32,369.37 637.39,363.61 639.46,356.19 641.53,358.17 643.6,357.55 645.67,357.67 647.75,358.91 649.82,359.24 651.89,361.09 653.96,356.92 656.44,354.41 658.1,363.02 661.21,363.02 663.28,357.52 664.31,353.44 664.83,353.44 665.35,353.44 666.38,356.95" fill="none" stroke="#f0e442" stroke-width="0.85" stroke-opacity="0.7" stroke-linejoin="round" />
<polyline points="477.65,332.19 477.96,339.69 478.6,356.26 479.7,368.23 481.28,367.22 482.86,366.01 484.45,364.17 485.24,361.66 486.03,364.99 486.82,367.3 488.08,369.39 489.19,363.55 490.77,353.61 492.03,330.78 492.83,327.36 493.62,337.5 494.41,348.92 495.2,355.06 496.3,356.02 497.57,360.33 498.67,365.9 499.78,362.07 501.05,360.79 502.63,366.41 504.21,367.31 505.79,365.45 507.37,368.15 508.95,365.87 510.53,366.78 511.8,367.04 512.9,365.58 513.69,358.78 514.49,365.68 517.17,361.59 519.24,358.85 521.31,349.23 522.34,352.49 523.38,366.05 525.04,355.07 525.86,367.56 527.52,361.36 528.56,358.29 529.59,367.69 530.63,372.99 532.7,358.98 534.77,353.87 536.22,347.12 537.25,355.7 538.91,364.17 540.36,368.9 542.02,371.28 544.09,361.91 545.82,348.54 546.86,355.26 547.89,356.1 548.93,354.76 549.96,358.23 552.03,359.7 554.1,360.98 556.17,361.59 558.25,362.56 560.32,359.5 562.39,351.78 563.42,356.39 564.46,366.52 566.53,365.85 568.6,364.54 569.64,345.1 570.15,276.97 570.57,280.23 571.08,342.47 571.71,366.86 573.78,371.32 575.85,367.44 577.92,360.56 578.95,361.69 581.02,368.6 583.1,362.86 584.75,353.09 585.79,318.47 586.82,340.3 587.65,351.75 589.31,356.13 591.38,353.96 593.45,360.15 595.52,360.06 597.59,358.52 599.66,359.64 601.73,363.51 603.8,359.87 605.87,366.02 607.95,367.86 607.75,359.97 609.82,365.83 611.89,364.55 613.55,354.87 614.38,348.63 615.62,357.93 617.07,368.97 619.14,363.57 621.21,366.22 623.28,355 624.32,361.68 626.39,367.7 628.46,342.39 629.29,322.37 630.11,335.65 631.56,353.4 632.6,364.44 634.67,366.98 636.74,363.76 638.81,358.49 640.88,353.84 642.95,353.67 645.02,358.46 647.1,358.02 649.17,356.61 651.24,359.84 653.31,357.28 655.79,354.55 657.45,362.81 660.56,360.01 662.63,360 663.66,341.71 664.18,353.44 664.7,353.44 665.73,356.95" fill="none" stroke="#e69f00" stroke-width="0.85" stroke-opacity="0.65" stroke-linejoin="round" />
<polyline points="477.9,339.58 478.21,348.36 478.85,369.32 479.95,369.56 481.53,368.72 483.11,369.24 484.7,365.41 485.49,362.69 486.28,367.99 487.07,371.21 488.33,367.85 489.44,364.34 491.02,350.83 492.28,332.7 493.08,327.58 493.87,336.63 494.66,351.31 495.45,357.87 496.55,357.89 497.82,362.12 498.92,365.45 500.03,362.13 501.3,362.08 502.88,365.64 504.46,367.9 506.04,366.95 507.62,366.58 509.2,367.49 510.78,367.71 512.05,369.71 513.15,366.93 513.94,360.12 514.74,367.68 517.42,363.49 519.49,360.18 521.56,346.61 522.59,355.03 523.63,371.35 525.29,358.83 526.11,371.07 527.77,361.04 528.81,358.13 529.84,368.04 530.88,372.94 532.95,362.11 535.02,354.11 536.47,349.01 537.5,355.71 539.16,368.14 540.61,371.53 542.27,369.98 544.34,361.12 546.07,349.9 547.11,354.76 548.14,359.65 549.18,355.66 550.21,356.1 552.28,361.04 554.35,363.25 556.42,361.96 558.5,361.62 560.57,360.73 562.64,354.1 563.67,358.85 564.71,366.77 566.78,367.29 568.85,363.37 569.89,340.27 570.4,266.79 570.82,265.13 571.33,341.63 571.96,369.15 574.03,371.93 576.1,369.78 578.17,359.18 579.2,365.26 581.27,368.07 583.35,365.26 585,351.26 586.04,311.78 587.07,340.53 587.9,352.72 589.56,355.9 591.63,355.78 593.7,360.5 595.77,362.08 597.84,361.89 599.91,363.22 601.98,363.87 604.05,364.41 606.12,366.01 608.2,369.14 608,364.23 610.07,365.82 612.14,365.67 613.8,357.95 614.63,350.84 615.87,365.52 617.32,369.47 619.39,365.81 621.46,366.97 623.53,355.27 624.57,365.71 626.64,369.09 628.71,340.39 629.54,319.66 630.36,331.22 631.81,351.26 632.85,368.95 634.92,370.87 636.99,363.08 639.06,357.93 641.13,355.8 643.2,358.09 645.27,358.18 647.35,361.94 649.42,361.18 651.49,361.85 653.56,357.67 656.04,353.83 657.7,361.83 660.81,364.27 662.88,359.63 663.91,341.76 664.43,235.18 664.95,351.77 665.98,356.95" fill="none" stroke="#0072b2" stroke-width="0.85" stroke-opacity="0.55" stroke-linejoin="round" />
<polyline points="478.15,338.57 478.46,347.45 479.1,367.54 480.2,367.81 481.78,367.73 483.36,366.3 484.95,365.48 485.74,363.16 486.53,365.44 487.32,369.63 488.58,367.17 489.69,365.19 491.27,351.5 492.53,333.69 493.33,328 494.12,335.64 494.91,353.1 495.7,359.36 496.8,358.36 498.07,360.79 499.17,364.48 500.28,361.88 501.55,361.21 503.13,366.68 504.71,366.58 506.29,366.72 507.87,368.74 509.45,365.69 511.03,368.8 512.3,371.15 513.4,365.3 514.19,359.38 514.99,367.73 517.67,362.14 519.74,359.52 521.81,346.86 522.84,356.63 523.88,368.42 525.54,356.96 526.36,368.33 528.02,360.31 529.06,358.33 530.09,368.39 531.13,373.21 533.2,362.93 535.27,355.1 536.72,349.19 537.75,355.24 539.41,369.64 540.86,371.42 542.52,370.54 544.59,362.35 546.32,349.41 547.36,355.67 548.39,360.3 549.43,354.65 550.46,355.9 552.53,363.24 554.6,362.09 556.67,363.36 558.75,360.81 560.82,358.45 562.89,356.27 563.92,357.63 564.96,366.3 567.03,365.55 569.1,365.48 570.14,342.98 570.65,268.44 571.07,265.72 571.58,342.46 572.21,367 574.28,369.5 576.35,368.42 578.42,360.2 579.45,364.27 581.52,367.81 583.6,362.79 585.25,352.92 586.29,311.1 587.32,340.35 588.15,352.31 589.81,357.22 591.88,355.05 593.95,361.09 596.02,361.23 598.09,361.3 600.16,360.22 602.23,363.28 604.3,362.27 606.37,365.67 608.45,368.56 608.25,363.36 610.32,367.37 612.39,366.27 614.05,359.88 614.88,350.88 616.12,363.05 617.57,370.12 619.64,367 621.71,365.16 623.78,355.08 624.82,365.74 626.89,369.86 628.96,341.06 629.79,318.94 630.61,331.4 632.06,351.82 633.1,369.46 635.17,368.51 637.24,365.4 639.31,357.65 641.38,354.41 643.45,357.91 645.52,356.82 647.6,360.11 649.67,359.2 651.74,360.68 653.81,359.01 656.29,352.79 657.95,362.92 661.06,362.55 663.13,360.38 664.16,341.42 664.68,235.18 665.2,351.77 666.23,356.95" fill="none" stroke="#56b4e9" stroke-width="0.85" stroke-opacity="0.75" stroke-linejoin="round" />
<line x1="477.5" y1="235.1" x2="677.4" y2="235.1" stroke="#bbb" stroke-width="1" />
<line x1="477.5" y1="381.2" x2="677.4" y2="381.2" stroke="#999" stroke-width="1" />
<line x1="477.5" y1="235.1" x2="477.5" y2="381.2" stroke="#aaa" stroke-width="1" />
<line x1="677.4" y1="235.1" x2="677.4" y2="381.2" stroke="#bbb" stroke-width="1" />
<line x1="492.88" y1="381.2" x2="492.88" y2="379.2" stroke="#999" stroke-width="0.7" />
<line x1="492.88" y1="235.1" x2="492.88" y2="237.1" stroke="#999" stroke-width="0.7" />
<line x1="508.25" y1="381.2" x2="508.25" y2="379.2" stroke="#999" stroke-width="0.7" />
<line x1="508.25" y1="235.1" x2="508.25" y2="237.1" stroke="#999" stroke-width="0.7" />
<line x1="523.63" y1="381.2" x2="523.63" y2="379.2" stroke="#999" stroke-width="0.7" />
<line x1="523.63" y1="235.1" x2="523.63" y2="237.1" stroke="#999" stroke-width="0.7" />
<line x1="539.01" y1="381.2" x2="539.01" y2="379.2" stroke="#999" stroke-width="0.7" />
<line x1="539.01" y1="235.1" x2="539.01" y2="237.1" stroke="#999" stroke-width="0.7" />
<line x1="554.38" y1="381.2" x2="554.38" y2="379.2" stroke="#999" stroke-width="0.7" />
<line x1="554.38" y1="235.1" x2="554.38" y2="237.1" stroke="#999" stroke-width="0.7" />
<line x1="569.76" y1="381.2" x2="569.76" y2="379.2" stroke="#999" stroke-width="0.7" />
<line x1="569.76" y1="235.1" x2="569.76" y2="237.1" stroke="#999" stroke-width="0.7" />
<line x1="585.14" y1="381.2" x2="585.14" y2="379.2" stroke="#999" stroke-width="0.7" />
<line x1="585.14" y1="235.1" x2="585.14" y2="237.1" stroke="#999" stroke-width="0.7" />
<line x1="600.52" y1="381.2" x2="600.52" y2="379.2" stroke="#999" stroke-width="0.7" />
<line x1="600.52" y1="235.1" x2="600.52" y2="237.1" stroke="#999" stroke-width="0.7" />
<line x1="615.89" y1="381.2" x2="615.89" y2="379.2" stroke="#999" stroke-width="0.7" />
<line x1="615.89" y1="235.1" x2="615.89" y2="237.1" stroke="#999" stroke-width="0.7" />
<line x1="631.27" y1="381.2" x2="631.27" y2="379.2" stroke="#999" stroke-width="0.7" />
<line x1="631.27" y1="235.1" x2="631.27" y2="237.1" stroke="#999" stroke-width="0.7" />
<line x1="646.65" y1="381.2" x2="646.65" y2="379.2" stroke="#999" stroke-width="0.7" />
<line x1="646.65" y1="235.1" x2="646.65" y2="237.1" stroke="#999" stroke-width="0.7" />
<line x1="662.02" y1="381.2" x2="662.02" y2="379.2" stroke="#999" stroke-width="0.7" />
<line x1="662.02" y1="235.1" x2="662.02" y2="237.1" stroke="#999" stroke-width="0.7" />
<line x1="477.5" y1="351.98" x2="479.5" y2="351.98" stroke="#999" stroke-width="0.7" />
<line x1="677.4" y1="351.98" x2="675.4" y2="351.98" stroke="#999" stroke-width="0.7" />
<line x1="477.5" y1="322.76" x2="479.5" y2="322.76" stroke="#999" stroke-width="0.7" />
<line x1="677.4" y1="322.76" x2="675.4" y2="322.76" stroke="#999" stroke-width="0.7" />
<line x1="477.5" y1="293.54" x2="479.5" y2="293.54" stroke="#999" stroke-width="0.7" />
<line x1="677.4" y1="293.54" x2="675.4" y2="293.54" stroke="#999" stroke-width="0.7" />
<line x1="477.5" y1="264.32" x2="479.5" y2="264.32" stroke="#999" stroke-width="0.7" />
<line x1="677.4" y1="264.32" x2="675.4" y2="264.32" stroke="#999" stroke-width="0.7" />
<line x1="512.4" y1="240.9" x2="532.9" y2="240.9" stroke="#9400d3" stroke-width="1" stroke-opacity="0.55"/>
<line x1="512.4" y1="250.05" x2="532.9" y2="250.05" stroke="#009e73" stroke-width="1" stroke-opacity="0.55"/>
<line x1="512.4" y1="259.2" x2="532.9" y2="259.2" stroke="#56b4e9" stroke-width="1" stroke-opacity="0.55"/>
<line x1="512.4" y1="268.35" x2="532.9" y2="268.35" stroke="#e69f00" stroke-width="1" stroke-opacity="0.55"/>
<line x1="512.4" y1="277.5" x2="532.9" y2="277.5" stroke="#f0e442" stroke-width="1" stroke-opacity="0.55"/>
<line x1="512.4" y1="286.65" x2="532.9" y2="286.65" stroke="#0072b2" stroke-width="1" stroke-opacity="0.55"/>
<g class="gt">
<text x="90.5" y="183" font-family='"Liberation Serif", serif' font-size="9.2" text-anchor="middle" fill="#222" >0</text>
<text x="126.61" y="183" font-family='"Liberation Serif", serif' font-size="9.2" text-anchor="middle" fill="#222" >400</text>
<text x="162.72" y="183" font-family='"Liberation Serif", serif' font-size="9.2" text-anchor="middle" fill="#222" >800</text>
<text x="198.83" y="183" font-family='"Liberation Serif", serif' font-size="9.2" text-anchor="middle" fill="#222" >1200</text>
<text x="234.94" y="183" font-family='"Liberation Serif", serif' font-size="9.2" text-anchor="middle" fill="#222" >1600</text>
<text x="84.8" y="63" font-family='"Liberation Serif", serif' font-size="8.6" text-anchor="end" fill="#222" >0</text>
<text x="84.8" y="49.05" font-family='"Liberation Serif", serif' font-size="8.6" text-anchor="end" fill="#222" >0.25</text>
<text x="84.8" y="35.1" font-family='"Liberation Serif", serif' font-size="8.6" text-anchor="end" fill="#222" >0.5</text>
<text x="84.8" y="21.15" font-family='"Liberation Serif", serif' font-size="8.6" text-anchor="end" fill="#222" >0.75</text>
<text x="84.8" y="7.2" font-family='"Liberation Serif", serif' font-size="8.6" text-anchor="end" fill="#222" >1</text>
<text x="84.8" y="118.5" font-family='"Liberation Serif", serif' font-size="8.6" text-anchor="end" fill="#222" >0</text>
<text x="84.8" y="104.62" font-family='"Liberation Serif", serif' font-size="8.6" text-anchor="end" fill="#222" >0.25</text>
<text x="84.8" y="90.75" font-family='"Liberation Serif", serif' font-size="8.6" text-anchor="end" fill="#222" >0.5</text>
<text x="84.8" y="76.88" font-family='"Liberation Serif", serif' font-size="8.6" text-anchor="end" fill="#222" >0.75</text>
<text x="84.8" y="173.8" font-family='"Liberation Serif", serif' font-size="8.6" text-anchor="end" fill="#222" >0</text>
<text x="84.8" y="159.97" font-family='"Liberation Serif", serif' font-size="8.6" text-anchor="end" fill="#222" >0.25</text>
<text x="84.8" y="146.15" font-family='"Liberation Serif", serif' font-size="8.6" text-anchor="end" fill="#222" >0.5</text>
<text x="84.8" y="132.32" font-family='"Liberation Serif", serif' font-size="8.6" text-anchor="end" fill="#222" >0.75</text>
<text x="126.6" y="54.6" font-family='"Liberation Serif", serif' font-size="9.3" text-anchor="start" fill="#222" >Normal mode 1</text>
<text x="126.6" y="110.6" font-family='"Liberation Serif", serif' font-size="9.3" text-anchor="start" fill="#222" >Normal mode 2</text>
<text x="126.6" y="166.2" font-family='"Liberation Serif", serif' font-size="9.3" text-anchor="start" fill="#222" >Normal mode 3</text>
<text x="171.1" y="193.6" font-family='"Liberation Serif", serif' font-size="11.9" text-anchor="middle" fill="#111" >Number of PCs</text>
<text x="61" y="89" font-family='"Liberation Serif", serif' font-size="12" text-anchor="middle" fill="#111" transform="rotate(-90 61 89)" >Cumlative Overlap</text>
<text x="219.2" y="69.8" font-family='"Liberation Serif", serif' font-size="8.2" text-anchor="end" fill="#222" >10 ns</text>
<text x="219.2" y="78.62" font-family='"Liberation Serif", serif' font-size="8.2" text-anchor="end" fill="#222" >100 ns</text>
<text x="219.2" y="87.44" font-family='"Liberation Serif", serif' font-size="8.2" text-anchor="end" fill="#222" >1 µs</text>
<text x="219.2" y="96.26" font-family='"Liberation Serif", serif' font-size="8.2" text-anchor="end" fill="#222" >10 µs</text>
<text x="219.2" y="105.08" font-family='"Liberation Serif", serif' font-size="8.2" text-anchor="end" fill="#222" >50 µs</text>
<text x="219.2" y="113.9" font-family='"Liberation Serif", serif' font-size="8.2" text-anchor="end" fill="#222" >100 µs</text>
<text x="374.52" y="183" font-family='"Liberation Serif", serif' font-size="10" text-anchor="middle" fill="#222" >-150</text>
<text x="396.38" y="183" font-family='"Liberation Serif", serif' font-size="10" text-anchor="middle" fill="#222" >-100</text>
<text x="418.24" y="183" font-family='"Liberation Serif", serif' font-size="10" text-anchor="middle" fill="#222" >-50</text>
<text x="440.1" y="183" font-family='"Liberation Serif", serif' font-size="10" text-anchor="middle" fill="#222" >0</text>
<text x="461.96" y="183" font-family='"Liberation Serif", serif' font-size="10" text-anchor="middle" fill="#222" >50</text>
<text x="483.82" y="183" font-family='"Liberation Serif", serif' font-size="10" text-anchor="middle" fill="#222" >100</text>
<text x="435.5" y="195.7" font-family='"Liberation Serif", serif' font-size="12" text-anchor="middle" fill="#111" >PC1 coordinate</text>
<text x="361" y="92.7" font-family='"Liberation Serif", serif' font-size="11.7" text-anchor="middle" fill="#111" transform="rotate(-90 361 92.7)" >Frequency</text>
<text x="399.8" y="26.6" font-family='"Liberation Serif", serif' font-size="9.5" text-anchor="end" fill="#222" >1 µs</text>
<text x="399.8" y="36.8" font-family='"Liberation Serif", serif' font-size="9.5" text-anchor="end" fill="#222" >10 µs</text>
<text x="399.8" y="47" font-family='"Liberation Serif", serif' font-size="9.5" text-anchor="end" fill="#222" >50 µs</text>
<text x="399.8" y="57.2" font-family='"Liberation Serif", serif' font-size="9.5" text-anchor="end" fill="#222" >100 µs</text>
<text x="525.82" y="183" font-family='"Liberation Serif", serif' font-size="10" text-anchor="middle" fill="#222" >-150</text>
<text x="547.78" y="183" font-family='"Liberation Serif", serif' font-size="10" text-anchor="middle" fill="#222" >-100</text>
<text x="569.74" y="183" font-family='"Liberation Serif", serif' font-size="10" text-anchor="middle" fill="#222" >-50</text>
<text x="591.7" y="183" font-family='"Liberation Serif", serif' font-size="10" text-anchor="middle" fill="#222" >0</text>
<text x="613.66" y="183" font-family='"Liberation Serif", serif' font-size="10" text-anchor="middle" fill="#222" >50</text>
<text x="635.62" y="183" font-family='"Liberation Serif", serif' font-size="10" text-anchor="middle" fill="#222" >100</text>
<text x="587.2" y="195.7" font-family='"Liberation Serif", serif' font-size="12" text-anchor="middle" fill="#111" >PC2 coordinate</text>
<text x="551.3" y="32.8" font-family='"Liberation Serif", serif' font-size="9.5" text-anchor="end" fill="#222" >1 µs</text>
<text x="551.3" y="42.9" font-family='"Liberation Serif", serif' font-size="9.5" text-anchor="end" fill="#222" >10 µs</text>
<text x="551.3" y="53" font-family='"Liberation Serif", serif' font-size="9.5" text-anchor="end" fill="#222" >50 µs</text>
<text x="551.3" y="63.1" font-family='"Liberation Serif", serif' font-size="9.5" text-anchor="end" fill="#222" >100 µs</text>
<text x="35.7" y="388.6" font-family='"Liberation Serif", serif' font-size="9.1" text-anchor="middle" fill="#222" >0</text>
<text x="69.24" y="388.6" font-family='"Liberation Serif", serif' font-size="9.1" text-anchor="middle" fill="#222" >20</text>
<text x="102.78" y="388.6" font-family='"Liberation Serif", serif' font-size="9.1" text-anchor="middle" fill="#222" >40</text>
<text x="136.32" y="388.6" font-family='"Liberation Serif", serif' font-size="9.1" text-anchor="middle" fill="#222" >60</text>
<text x="169.86" y="388.6" font-family='"Liberation Serif", serif' font-size="9.1" text-anchor="middle" fill="#222" >80</text>
<text x="203.4" y="388.6" font-family='"Liberation Serif", serif' font-size="9.1" text-anchor="middle" fill="#222" >100</text>
<text x="27.8" y="379.1" font-family='"Liberation Serif", serif' font-size="8.8" text-anchor="end" fill="#222" >0</text>
<text x="27.8" y="350.76" font-family='"Liberation Serif", serif' font-size="8.8" text-anchor="end" fill="#222" >0.2</text>
<text x="27.8" y="322.42" font-family='"Liberation Serif", serif' font-size="8.8" text-anchor="end" fill="#222" >0.4</text>
<text x="27.8" y="294.08" font-family='"Liberation Serif", serif' font-size="8.8" text-anchor="end" fill="#222" >0.6</text>
<text x="27.8" y="265.74" font-family='"Liberation Serif", serif' font-size="8.8" text-anchor="end" fill="#222" >0.8</text>
<text x="27.8" y="237.4" font-family='"Liberation Serif", serif' font-size="8.8" text-anchor="end" fill="#222" >1</text>
<text x="119.5" y="400.3" font-family='"Liberation Serif", serif' font-size="12.2" text-anchor="middle" fill="#111" >Time [µ s]</text>
<text x="9.6" y="306.3" font-family='"Liberation Serif", serif' font-size="12.4" text-anchor="middle" fill="#111" transform="rotate(-90 9.6 306.3)" >Cumulative Population</text>
<text x="160.2" y="245" font-family='"Liberation Serif", serif' font-size="9.2" text-anchor="end" fill="#111" >c0</text>
<text x="160.2" y="255.75" font-family='"Liberation Serif", serif' font-size="9.2" text-anchor="end" fill="#111" >c1</text>
<text x="160.2" y="266.5" font-family='"Liberation Serif", serif' font-size="9.2" text-anchor="end" fill="#111" >c2</text>
<text x="160.2" y="277.25" font-family='"Liberation Serif", serif' font-size="9.2" text-anchor="end" fill="#111" >c3</text>
<text x="160.2" y="288" font-family='"Liberation Serif", serif' font-size="9.2" text-anchor="end" fill="#111" >c4</text>
<text x="262.6" y="388.6" font-family='"Liberation Serif", serif' font-size="9.1" text-anchor="middle" fill="#222" >0</text>
<text x="295.4" y="388.6" font-family='"Liberation Serif", serif' font-size="9.1" text-anchor="middle" fill="#222" >20</text>
<text x="328.2" y="388.6" font-family='"Liberation Serif", serif' font-size="9.1" text-anchor="middle" fill="#222" >40</text>
<text x="361" y="388.6" font-family='"Liberation Serif", serif' font-size="9.1" text-anchor="middle" fill="#222" >60</text>
<text x="393.8" y="388.6" font-family='"Liberation Serif", serif' font-size="9.1" text-anchor="middle" fill="#222" >80</text>
<text x="426.6" y="388.6" font-family='"Liberation Serif", serif' font-size="9.1" text-anchor="middle" fill="#222" >100</text>
<text x="254.3" y="379.3" font-family='"Liberation Serif", serif' font-size="8.8" text-anchor="end" fill="#222" >0</text>
<text x="254.3" y="343.82" font-family='"Liberation Serif", serif' font-size="8.8" text-anchor="end" fill="#222" >1</text>
<text x="254.3" y="308.35" font-family='"Liberation Serif", serif' font-size="8.8" text-anchor="end" fill="#222" >2</text>
<text x="254.3" y="272.88" font-family='"Liberation Serif", serif' font-size="8.8" text-anchor="end" fill="#222" >3</text>
<text x="254.3" y="237.4" font-family='"Liberation Serif", serif' font-size="8.8" text-anchor="end" fill="#222" >4</text>
<text x="344.3" y="400.3" font-family='"Liberation Serif", serif' font-size="12.2" text-anchor="middle" fill="#111" >Time [µ s]</text>
<text x="242.5" y="307" font-family='"Liberation Serif", serif' font-size="12.3" text-anchor="middle" fill="#111" transform="rotate(-90 242.5 307)" >Cluster</text>
<text x="477.5" y="389.9" font-family='"Liberation Serif", serif' font-size="8" text-anchor="middle" fill="#333" >0</text>
<text x="492.88" y="389.9" font-family='"Liberation Serif", serif' font-size="8" text-anchor="middle" fill="#333" >50</text>
<text x="508.25" y="389.9" font-family='"Liberation Serif", serif' font-size="8" text-anchor="middle" fill="#333" >100</text>
<text x="523.63" y="389.9" font-family='"Liberation Serif", serif' font-size="8" text-anchor="middle" fill="#333" >150</text>
<text x="539.01" y="389.9" font-family='"Liberation Serif", serif' font-size="8" text-anchor="middle" fill="#333" >200</text>
<text x="554.38" y="389.9" font-family='"Liberation Serif", serif' font-size="8" text-anchor="middle" fill="#333" >250</text>
<text x="569.76" y="389.9" font-family='"Liberation Serif", serif' font-size="8" text-anchor="middle" fill="#333" >300</text>
<text x="585.14" y="389.9" font-family='"Liberation Serif", serif' font-size="8" text-anchor="middle" fill="#333" >350</text>
<text x="600.52" y="389.9" font-family='"Liberation Serif", serif' font-size="8" text-anchor="middle" fill="#333" >400</text>
<text x="615.89" y="389.9" font-family='"Liberation Serif", serif' font-size="8" text-anchor="middle" fill="#333" >450</text>
<text x="631.27" y="389.9" font-family='"Liberation Serif", serif' font-size="8" text-anchor="middle" fill="#333" >500</text>
<text x="646.65" y="389.9" font-family='"Liberation Serif", serif' font-size="8" text-anchor="middle" fill="#333" >550</text>
<text x="662.02" y="389.9" font-family='"Liberation Serif", serif' font-size="8" text-anchor="middle" fill="#333" >600</text>
<text x="677.4" y="389.9" font-family='"Liberation Serif", serif' font-size="8" text-anchor="middle" fill="#333" >650</text>
<text x="474.2" y="382.1" font-family='"Liberation Serif", serif' font-size="7.8" text-anchor="end" fill="#333" >0</text>
<text x="474.2" y="352.88" font-family='"Liberation Serif", serif' font-size="7.8" text-anchor="end" fill="#333" >2</text>
<text x="474.2" y="323.66" font-family='"Liberation Serif", serif' font-size="7.8" text-anchor="end" fill="#333" >4</text>
<text x="474.2" y="294.44" font-family='"Liberation Serif", serif' font-size="7.8" text-anchor="end" fill="#333" >6</text>
<text x="474.2" y="265.22" font-family='"Liberation Serif", serif' font-size="7.8" text-anchor="end" fill="#333" >8</text>
<text x="474.2" y="236" font-family='"Liberation Serif", serif' font-size="7.8" text-anchor="end" fill="#333" >10</text>
<text x="577.2" y="399.9" font-family='"Liberation Serif", serif' font-size="11.6" text-anchor="middle" fill="#111" >Residue number</text>
<text x="461.7" y="308.7" font-family='"Liberation Serif", serif' font-size="11.9" text-anchor="middle" fill="#111" transform="rotate(-90 461.7 308.7)" >RMSF [Å]</text>
<text x="508" y="242.2" font-family='"Liberation Serif", serif' font-size="8.7" text-anchor="end" fill="#222" >10 ns</text>
<text x="508" y="251.35" font-family='"Liberation Serif", serif' font-size="8.7" text-anchor="end" fill="#222" >100 ns</text>
<text x="508" y="260.5" font-family='"Liberation Serif", serif' font-size="8.7" text-anchor="end" fill="#222" >1 µs</text>
<text x="508" y="269.65" font-family='"Liberation Serif", serif' font-size="8.7" text-anchor="end" fill="#222" >10 µs</text>
<text x="508" y="278.8" font-family='"Liberation Serif", serif' font-size="8.7" text-anchor="end" fill="#222" >50 µs</text>
<text x="508" y="287.95" font-family='"Liberation Serif", serif' font-size="8.7" text-anchor="end" fill="#222" >100 µs</text>
</g>
</svg>
</body></html>
